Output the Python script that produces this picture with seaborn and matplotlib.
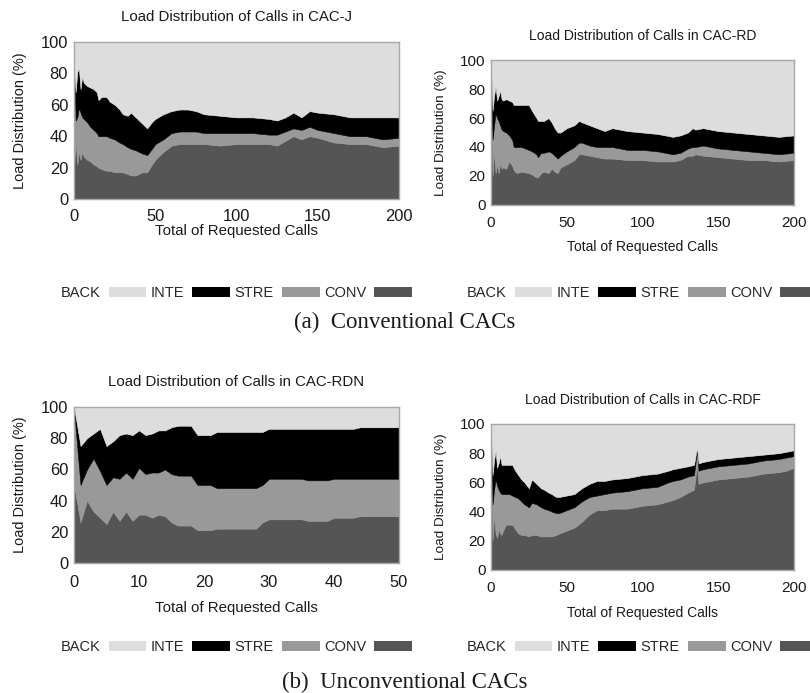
import numpy as np
import pandas as pd
import seaborn as sns
import matplotlib.pyplot as plt
from matplotlib.patches import Patch

sns.set_theme(style="white")
plt.rcParams['font.family'] = ['Liberation Sans', 'DejaVu Sans']

layer_colors = {'CONV': '#555555', 'STRE': '#999999', 'INTE': '#000000', 'BACK': '#dddddd'}

# CAC-J (share of each call type, %)
j_calls = [0, 1, 2, 3, 4, 5, 6, 8, 10, 12, 14, 15, 17, 20, 22, 25, 28, 30, 33, 35, 38, 40, 42, 45, 48, 50,
           55, 60, 65, 70, 75, 80, 90, 100, 110, 120, 125, 130, 135, 140, 145, 150, 160, 170, 180, 190, 200]
j_conv = [20, 37, 22, 30, 25, 30, 27, 25, 24, 22, 21, 20, 19, 18, 18, 17, 17, 17, 16, 15, 15, 16, 17, 17, 22, 25,
          30, 34, 35, 35, 35, 35, 34, 35, 35, 35, 34, 37, 40, 38, 40, 39, 36, 35, 35, 33, 34]
j_stre = [65, 13, 30, 28, 30, 22, 24, 24, 22, 22, 21, 20, 21, 22, 21, 21, 19, 18, 17, 17, 16, 14, 12, 11, 10, 10,
          8, 8, 8, 8, 8, 7, 8, 7, 7, 6, 7, 6, 5, 6, 6, 5, 6, 5, 5, 5, 5]
j_inte = [0, 18, 29, 25, 15, 26, 23, 23, 25, 26, 26, 23, 25, 25, 23, 22, 21, 19, 20, 23, 21, 20, 19, 17, 17, 16,
          16, 14, 14, 14, 13, 12, 11, 10, 10, 10, 9, 9, 10, 8, 10, 11, 12, 12, 12, 14, 13]

# CAC-RD
rd_calls = [0, 1, 2, 3, 4, 5, 6, 7, 8, 10, 12, 14, 15, 17, 20, 25, 27, 30, 31, 33, 35, 38, 40, 42, 44, 46, 50,
            55, 58, 60, 65, 70, 75, 80, 90, 100, 110, 115, 120, 125, 130, 133, 135, 140, 150, 160, 170, 180, 190, 200]
rd_conv = [100, 20, 37, 22, 28, 22, 29, 25, 26, 25, 30, 27, 24, 22, 23, 22, 21, 19, 19, 22, 23, 22, 25, 23, 22, 26, 28,
           31, 35, 35, 34, 33, 32, 32, 31, 31, 30, 30, 30, 31, 34, 34, 35, 34, 33, 32, 31, 31, 30, 31]
rd_stre = [0, 25, 18, 41, 32, 36, 26, 27, 25, 25, 18, 18, 16, 18, 17, 16, 16, 16, 14, 14, 13, 15, 11, 11, 10, 8, 9,
           9, 8, 8, 7, 7, 8, 8, 7, 7, 7, 6, 5, 5, 5, 6, 5, 7, 6, 6, 6, 5, 5, 5]
rd_inte = [0, 20, 20, 19, 12, 17, 24, 21, 21, 23, 24, 26, 29, 29, 29, 31, 28, 25, 25, 22, 22, 23, 21, 19, 18, 16, 16,
           15, 15, 14, 14, 13, 11, 13, 13, 12, 12, 12, 12, 12, 11, 13, 12, 12, 12, 12, 12, 12, 12, 12]

# CAC-RDN
rdn_calls = list(range(51))
rdn_conv = [50, 26, 40, 33, 29, 25, 33, 27, 33, 27, 31, 31, 29, 31, 30, 26, 24, 24, 24, 21, 21, 21, 22, 22, 22, 22,
            22, 22, 22, 26, 28, 28, 28, 28, 28, 28, 27, 27, 27, 27, 29, 29, 29, 29, 30, 30, 30, 30, 30, 30, 30]
rdn_stre = [48, 24, 20, 34, 30, 25, 22, 27, 25, 27, 30, 26, 29, 27, 30, 31, 32, 32, 32, 29, 29, 29, 26, 26, 26, 26,
            26, 26, 26, 24, 26, 26, 26, 26, 26, 26, 26, 26, 26, 26, 25, 25, 25, 25, 24, 24, 24, 24, 24, 24, 24]
rdn_inte = [2, 25, 20, 16, 27, 25, 23, 28, 25, 28, 24, 25, 25, 27, 25, 30, 32, 32, 32, 32, 32, 32, 36, 36, 36, 36,
            36, 36, 36, 34, 32, 32, 32, 32, 32, 32, 33, 33, 33, 33, 32, 32, 32, 32, 33, 33, 33, 33, 33, 33, 33]

# CAC-RDF
rdf_calls = [0, 1, 2, 3, 4, 5, 6, 7, 8, 10, 12, 14, 16, 18, 20, 22, 25, 27, 30, 33, 35, 38, 40, 43, 45, 50, 55, 60,
             65, 70, 75, 80, 90, 100, 110, 117, 120, 125, 130, 134, 136, 137, 140, 145, 150, 160, 170, 180, 190, 195, 200]
rdf_conv = [100, 20, 37, 25, 22, 28, 25, 24, 27, 31, 31, 31, 28, 25, 24, 24, 23, 24, 24, 23, 23, 23, 23, 24, 25, 27, 29, 33,
            38, 41, 41, 42, 42, 44, 45, 47, 48, 50, 53, 55, 72, 59, 60, 61, 62, 63, 64, 66, 67, 68, 70]
rdf_stre = [0, 25, 18, 37, 36, 27, 28, 28, 25, 21, 21, 20, 22, 24, 23, 21, 20, 22, 21, 20, 19, 18, 17, 15, 14, 14, 14, 14,
            12, 10, 11, 11, 12, 12, 12, 13, 13, 12, 11, 10, 10, 9, 9, 9, 9, 9, 9, 9, 9, 9, 8]
rdf_inte = [0, 20, 20, 20, 12, 18, 25, 20, 20, 20, 20, 21, 18, 16, 15, 15, 13, 16, 14, 13, 13, 12, 12, 11, 11, 10, 9, 9,
            9, 10, 9, 9, 9, 9, 9, 8, 8, 8, 7, 7, 2, 5, 5, 5, 5, 5, 5, 4, 4, 4, 4]


def draw_panel(ax, calls, conv, stre, inte, title, xmax, xstep, fs, tpad, xlpad):
    df = pd.DataFrame({'calls': calls, 'CONV': conv, 'STRE': stre, 'INTE': inte})
    df['BACK'] = 100 - df[['CONV', 'STRE', 'INTE']].sum(axis=1)
    order = ['CONV', 'STRE', 'INTE', 'BACK']
    polys = ax.stackplot(df['calls'], *[df[k] for k in order],
                         colors=[layer_colors[k] for k in order], linewidth=0)
    for p, k in zip(polys, order):
        p.set_edgecolor(layer_colors[k])
        p.set_linewidth(0.4)
    ax.set_xlim(0, xmax)
    ax.set_ylim(0, 100)
    ax.set_xticks(np.arange(0, xmax + 1, xstep))
    ax.set_yticks(np.arange(0, 101, 20))
    ax.tick_params(length=0, labelsize=fs * 1.1, colors='#1a1a1a')
    ax.tick_params(axis='x', pad=fs * 0.5 + tpad)
    ax.tick_params(axis='y', pad=fs * 0.4)
    for s in ax.spines.values():
        s.set_color('#a8a8a8')
        s.set_linewidth(1)
        s.set_zorder(5)
    ax.set_title(title, fontsize=fs, pad=fs * 1.0 + 4.5, color='#1a1a1a')
    ax.set_xlabel('Total of Requested Calls', fontsize=fs, labelpad=xlpad, color='#1a1a1a')
    ax.set_ylabel('Load Distribution (%)', fontsize=fs * 0.97, labelpad=fs * 0.9, color='#1a1a1a')

    handles = [Patch(facecolor=layer_colors[k], edgecolor='none') for k in ['BACK', 'INTE', 'STRE', 'CONV']]
    pos = ax.get_position()
    return handles, (pos.x0 + pos.x1) / 2


fig = plt.figure(figsize=(8.1, 6.93), dpi=100)
ax1 = fig.add_axes([0.0914, 0.7128, 0.4012, 0.2266])
ax2 = fig.add_axes([0.6062, 0.7042, 0.3740, 0.2092])
ax3 = fig.add_axes([0.0914, 0.1876, 0.4012, 0.2251])
ax4 = fig.add_axes([0.6062, 0.1775, 0.3740, 0.2107])

panels = [
    (ax1, j_calls, j_conv, j_stre, j_inte, 'Load Distribution of Calls in CAC-J', 200, 50, 10.8, 1.5, 0, 0.5772),
    (ax2, rd_calls, rd_conv, rd_stre, rd_inte, 'Load Distribution of Calls in CAC-RD', 200, 50, 10.0, 3, 7, 0.5772),
    (ax3, rdn_calls, rdn_conv, rdn_stre, rdn_inte, 'Load Distribution of Calls in CAC-RDN', 50, 10, 10.8, 3, 8.5, 0.0664),
    (ax4, rdf_calls, rdf_conv, rdf_stre, rdf_inte, 'Load Distribution of Calls in CAC-RDF', 200, 50, 10.0, 3, 7.5, 0.0664),
]
for ax, calls, conv, stre, inte, title, xmax, xstep, fs, tpad, xlpad, ly in panels:
    handles, cx = draw_panel(ax, calls, conv, stre, inte, title, xmax, xstep, fs, tpad, xlpad)
    fig.legend(handles, ['BACK', 'INTE', 'STRE', 'CONV'], loc='center', bbox_to_anchor=(cx, ly),
               ncol=4, frameon=False, markerfirst=False, fontsize=10.5, handlelength=2.6,
               handleheight=0.7, handletextpad=0.55, columnspacing=0.3)

fig.text(0.5, 0.534, '(a)  Conventional CACs', ha='center', va='center',
         family='Liberation Serif', fontsize=16.5, color='#1a1a1a')
fig.text(0.5, 0.0159, '(b)  Unconventional CACs', ha='center', va='center',
         family='Liberation Serif', fontsize=16.5, color='#1a1a1a')

fig.savefig('out.png', dpi=100)
